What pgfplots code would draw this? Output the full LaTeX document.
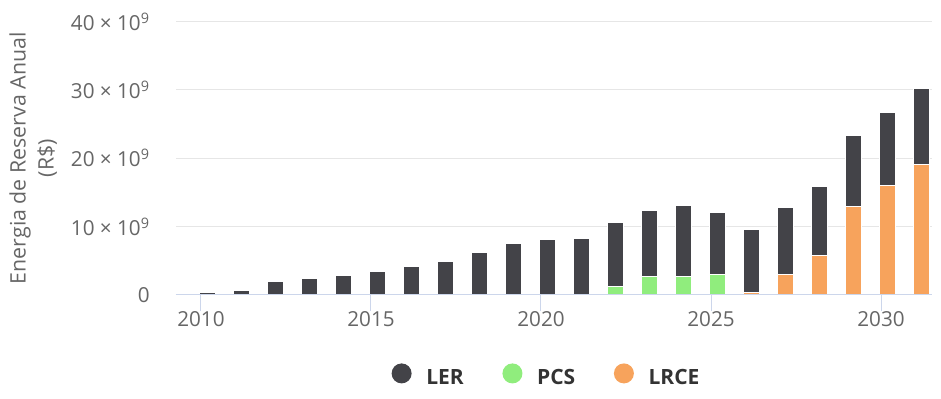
\documentclass[border=0pt]{standalone}
\usepackage{fontspec}
\setmainfont{Open Sans}
\usepackage{pgfplots}
\usepackage{pgfplotstable}
\pgfplotsset{compat=1.18}
\definecolor{cLER}{HTML}{434348}
\definecolor{cPCS}{HTML}{90ED7D}
\definecolor{cLRCE}{HTML}{F7A35C}
\definecolor{gridc}{HTML}{E6E6E6}
\definecolor{axc}{HTML}{CCD6EB}
\definecolor{labc}{HTML}{666666}
\definecolor{legc}{HTML}{333333}

% values in units of 10^9 R$
\pgfplotstableread{
year LRCE PCS LER
2010 0     0    0.40
2011 0     0    0.63
2012 0     0    1.95
2013 0     0    2.40
2014 0     0    2.90
2015 0     0    3.40
2016 0     0    4.20
2017 0     0    4.95
2018 0     0    6.26
2019 0     0    7.48
2020 0     0    8.06
2021 0     0    8.31
2022 0     1.22 9.38
2023 0     2.69 9.67
2024 0     2.69 10.46
2025 0     2.93 9.19
2026 0.35  0    9.18
2027 2.93  0    9.93
2028 5.77  0    10.17
2029 12.95 0    10.41
2030 16.03 0    10.66
2031 19.06 0    11.20
}\datatable

\begin{document}
\begin{tikzpicture}
\path[use as bounding box] (-132pt,-78pt) rectangle (573.75pt,221.25pt);
\begin{axis}[
  at={(0pt,0pt)}, anchor=south west,
  scale only axis, width=567pt, height=205.1pt,
  xmin=2009.265, xmax=2031.5, ymin=0, ymax=40,
  ybar stacked, bar width=12pt, bar shift=4.7pt,
  axis x line*=bottom, axis y line*=left,
  x axis line style={draw=axc, line width=0.75pt, -},
  y axis line style={draw=none},
  xtick={2010,2015,2020,2025,2030},
  xticklabels={2010,2015,2020,2025,2030},
  ytick={0,10,20,30,40},
  yticklabels={0,{10 × 10\textsuperscript{9}},{20 × 10\textsuperscript{9}},{30 × 10\textsuperscript{9}},{40 × 10\textsuperscript{9}}},
  ymajorgrids, grid style={draw=gridc, line width=0.75pt},
  xtick align=outside,
  x tick style={draw=axc, line width=0.75pt},
  xtick pos=bottom,
  major tick length=12pt,
  y tick style={draw=none},
  xticklabel style={font=\fontsize{15.5}{18}\selectfont, text=labc, anchor=north, inner sep=0pt},
  yticklabel style={font=\fontsize{15.5}{18}\selectfont, text=labc, anchor=east, inner sep=0pt, xshift=-19.5pt},
  ylabel={Energia de Reserva Anual\\(R\$)},
  ylabel style={align=center, font=\fontsize{16}{21}\selectfont, text=labc, at={(axis description cs:-0.189,0.5)}, anchor=center},
  legend columns=3, reverse legend,
  legend style={at={(axis description cs:0.4888,-0.293)}, anchor=center, draw=none, fill=none,
    font=\bfseries\fontsize{15.75}{18}\selectfont,
    nodes={inner sep=0pt, text=legc},
    /tikz/every even column/.append style={column sep=29pt},
    /tikz/every odd column/.append style={column sep=11pt}},
  legend image code/.code={\fill[#1, draw=none] (7.5pt,0.36em) circle (7.5pt);},
  after end axis/.code={\draw[axc, line width=0.75pt] (rel axis cs:0,0) -- (rel axis cs:1,0);},
]
\addplot[fill=cLRCE, draw=white, line width=0.75pt] table[x=year, y=LRCE] {\datatable};
\addlegendentry{LRCE}
\addplot[fill=cPCS, draw=white, line width=0.75pt] table[x=year, y=PCS] {\datatable};
\addlegendentry{PCS}
\addplot[fill=cLER, draw=white, line width=0.75pt] table[x=year, y=LER] {\datatable};
\addlegendentry{LER}
\end{axis}
\end{tikzpicture}
\end{document}
